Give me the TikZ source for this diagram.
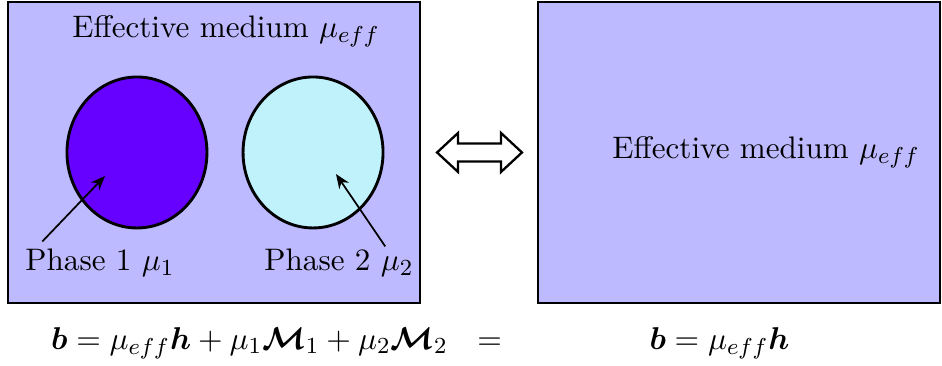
\documentclass[tikz,border=0pt]{standalone}
\usepackage{amsmath, amssymb}
\usepackage{xcolor}
\usepackage{tikz}
\usetikzlibrary{
arrows.meta,
positioning,
calc
}
\definecolor{medfill}{RGB}{190,186,255}
\definecolor{phaseone}{RGB}{102,0,255}
\definecolor{phasetwo}{RGB}{192,242,252}

\begin{document}
\begin{tikzpicture}[>={Stealth[length=5pt,width=4pt]},
  every node/.style={font=\fontsize{10.8}{13}\selectfont},
  medbox/.style={draw=black, semithick, fill=medfill},
  inclusion/.style={draw=black, line width=1pt},
  pointer/.style={->, line width=0.6pt}]
\useasboundingbox (0,0) rectangle (11.492,4.453);

%% Effective medium with two phases (left)
\draw[medbox] (0.098,0.756) rectangle (5.124,4.429);
\node (effL) at (2.757,4.070) {Effective medium $\mu_{eff}$};

%% Inclusions
\draw[inclusion, fill=phaseone] (1.671,2.593) ellipse [x radius=0.854, y radius=0.921];
\draw[inclusion, fill=phasetwo] (3.819,2.593) ellipse [x radius=0.854, y radius=0.921];
\coordinate (in1) at (1.281,2.306);
\coordinate (in2) at (4.099,2.330);

%% Phase labels
\node (ph1) at (1.22,1.244) {Phase 1 $\mu_1$};
\node (ph2) at (4.136,1.244) {Phase 2 $\mu_2$};
\draw[pointer] (ph1.north west) ++(0.33,-0.03) -- (in1);
\draw[pointer] (ph2.north east) ++(-0.47,-0.09) -- (in2);

%% Equivalence arrow
\draw[thick, fill=white]
  (5.332,2.593) -- (5.588,2.831) -- (5.588,2.703) -- (6.112,2.703) --
  (6.112,2.831) -- (6.368,2.593) -- (6.112,2.355) -- (6.112,2.483) --
  (5.588,2.483) -- (5.588,2.355) -- cycle;

%% Homogeneous effective medium (right)
\draw[medbox] (6.564,0.756) rectangle (11.468,4.429);
\node (effR) at (9.345,2.593) {Effective medium $\mu_{eff}$};

%% Constitutive relations
\node (eqL) at (3.373,0.268)
  {$\boldsymbol{b} = \mu_{eff}\boldsymbol{h} + \mu_1\boldsymbol{\mathcal{M}}_1
   + \mu_2\boldsymbol{\mathcal{M}}_2 \ \ =$};
\node (eqR) at (8.778,0.268) {$\boldsymbol{b} = \mu_{eff}\boldsymbol{h}$};

\end{tikzpicture}
\end{document}
